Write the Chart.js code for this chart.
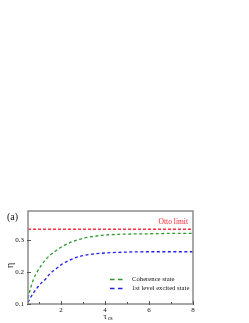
<!DOCTYPE html>
<html><head><meta charset="utf-8">
<script src="https://cdn.jsdelivr.net/npm/chart.js@4"></script>
<style>html,body{margin:0;padding:0;background:#fff;}canvas{display:block;}</style>
</head><body>
<canvas id="c" width="249" height="323"></canvas>
<script>
const tauValues = [0.5, 0.6, 0.75, 0.9, 1.1, 1.3, 1.5, 1.75, 2.0, 2.5, 3.0, 3.5, 4, 5, 6, 7, 8];
const coherenceEta = [0.118, 0.145, 0.177, 0.198, 0.220, 0.238, 0.252, 0.265, 0.277, 0.294, 0.305, 0.311, 0.315, 0.318, 0.319, 0.320, 0.320];
const excitedEta = [0.105, 0.118, 0.135, 0.149, 0.165, 0.178, 0.195, 0.208, 0.222, 0.240, 0.251, 0.256, 0.259, 0.262, 0.263, 0.263, 0.263];
const ottoTau = [0.5, 8];
const ottoEta = [0.333, 0.333];
const seriesLabels = ['Coherence state', '1st level excited state', 'Otto limit'];
const xMajorTicks = [2, 4, 6, 8];
const xMinorTicks = [1, 3, 5, 7];
const yTicks = [0.1, 0.2, 0.3];

const serif = '"Liberation Serif", "DejaVu Serif", serif';
const toPts = (xs, ys) => xs.map((x, i) => ({x: x, y: ys[i]}));

const framePlugin = {
  id: 'frame',
  afterDatasetsDraw(chart) {
    const {ctx, chartArea: a, scales: {x, y}} = chart;
    ctx.save();
    ctx.strokeStyle = '#8a8a8a';
    ctx.lineWidth = 1.5;
    ctx.strokeRect(a.left, a.top, a.right - a.left, a.bottom - a.top);
    ctx.lineWidth = 1;
    ctx.strokeStyle = '#555';
    ctx.beginPath();
    xMajorTicks.forEach(v => { const px = Math.round(x.getPixelForValue(v)) + 0.5; ctx.moveTo(px, a.bottom + 1); ctx.lineTo(px, a.bottom - 3); });
    xMinorTicks.forEach(v => { const px = Math.round(x.getPixelForValue(v)) + 0.5; ctx.moveTo(px, a.bottom); ctx.lineTo(px, a.bottom - 2); });
    yTicks.forEach(v => { const py = Math.round(y.getPixelForValue(v)) + 0.5; ctx.moveTo(a.left - 1, py); ctx.lineTo(a.left + 3, py); });
    ctx.stroke();

    // Otto limit label
    const ds = chart.data.datasets;
    ctx.fillStyle = '#ff2030';
    ctx.font = '7.5px ' + serif;
    ctx.textAlign = 'right';
    ctx.textBaseline = 'middle';
    ctx.fillText(ds[2].label, a.right - 5, y.getPixelForValue(ottoEta[0]) - 7);

    // legend
    ctx.textAlign = 'left';
    ctx.font = '6.7px ' + serif;
    [0, 1].forEach((i, k) => {
      const ly = 279.5 + k * 9;
      ctx.strokeStyle = ds[i].borderColor;
      ctx.lineWidth = 1.3;
      ctx.setLineDash([4.5, 3.5]);
      ctx.beginPath(); ctx.moveTo(110, ly); ctx.lineTo(123, ly); ctx.stroke();
      ctx.setLineDash([]);
      ctx.fillStyle = '#111';
      ctx.fillText(ds[i].label, 132, ly);
    });

    // panel label
    ctx.font = '10px ' + serif;
    ctx.fillStyle = '#111';
    ctx.fillText('(a)', 7, 217);

    // x title with subscript
    ctx.font = '8.5px ' + serif;
    const cx = (a.left + a.right) / 2 - 4;
    ctx.fillText('τ', cx - 3, 317);
    ctx.font = '6px ' + serif;
    ctx.fillText('cs', cx + 1.2, 318.5);

    // y title rotated
    ctx.save();
    ctx.translate(10, (a.top + a.bottom) / 2 + 8);
    ctx.rotate(-Math.PI / 2);
    ctx.font = '10px ' + serif;
    ctx.textAlign = 'center';
    ctx.fillText('η', 0, 0);
    ctx.restore();
    ctx.restore();
  }
};

new Chart(document.getElementById('c'), {
  type: 'line',
  data: {
    datasets: [
      {label: seriesLabels[0], data: toPts(tauValues, coherenceEta), borderColor: '#2e9a2e', borderDash: [3, 2.5], borderWidth: 1.3, pointRadius: 0, fill: false, cubicInterpolationMode: 'monotone'},
      {label: seriesLabels[1], data: toPts(tauValues, excitedEta), borderColor: '#2222ee', borderDash: [3, 2.5], borderWidth: 1.3, pointRadius: 0, fill: false, cubicInterpolationMode: 'monotone'},
      {label: seriesLabels[2], data: toPts(ottoTau, ottoEta), borderColor: '#ff3040', borderDash: [3, 2], borderWidth: 1.5, pointRadius: 0, fill: false}
    ]
  },
  options: {
    responsive: false,
    animation: false,
    layout: {padding: {top: 211, right: 56, left: 0, bottom: 0}},
    plugins: {legend: {display: false}, tooltip: {enabled: false}},
    scales: {
      x: {
        type: 'linear', min: 0.5, max: 8,
        afterBuildTicks: s => { s.ticks = xMajorTicks.map(v => ({value: v})); },
        afterFit: s => { s.height = 19; },
        grid: {display: false, drawTicks: false},
        border: {display: false},
        ticks: {font: {family: serif, size: 7}, color: '#111', padding: 2, maxRotation: 0}
      },
      y: {
        type: 'linear', min: 0.1, max: 0.39,
        afterBuildTicks: s => { s.ticks = yTicks.map(v => ({value: v})); },
        afterFit: s => { s.width = 28; },
        grid: {display: false, drawTicks: false},
        border: {display: false},
        ticks: {font: {family: serif, size: 7}, color: '#111', padding: 4, callback: v => v.toFixed(1)}
      }
    }
  },
  plugins: [framePlugin]
});
</script>
</body></html>
